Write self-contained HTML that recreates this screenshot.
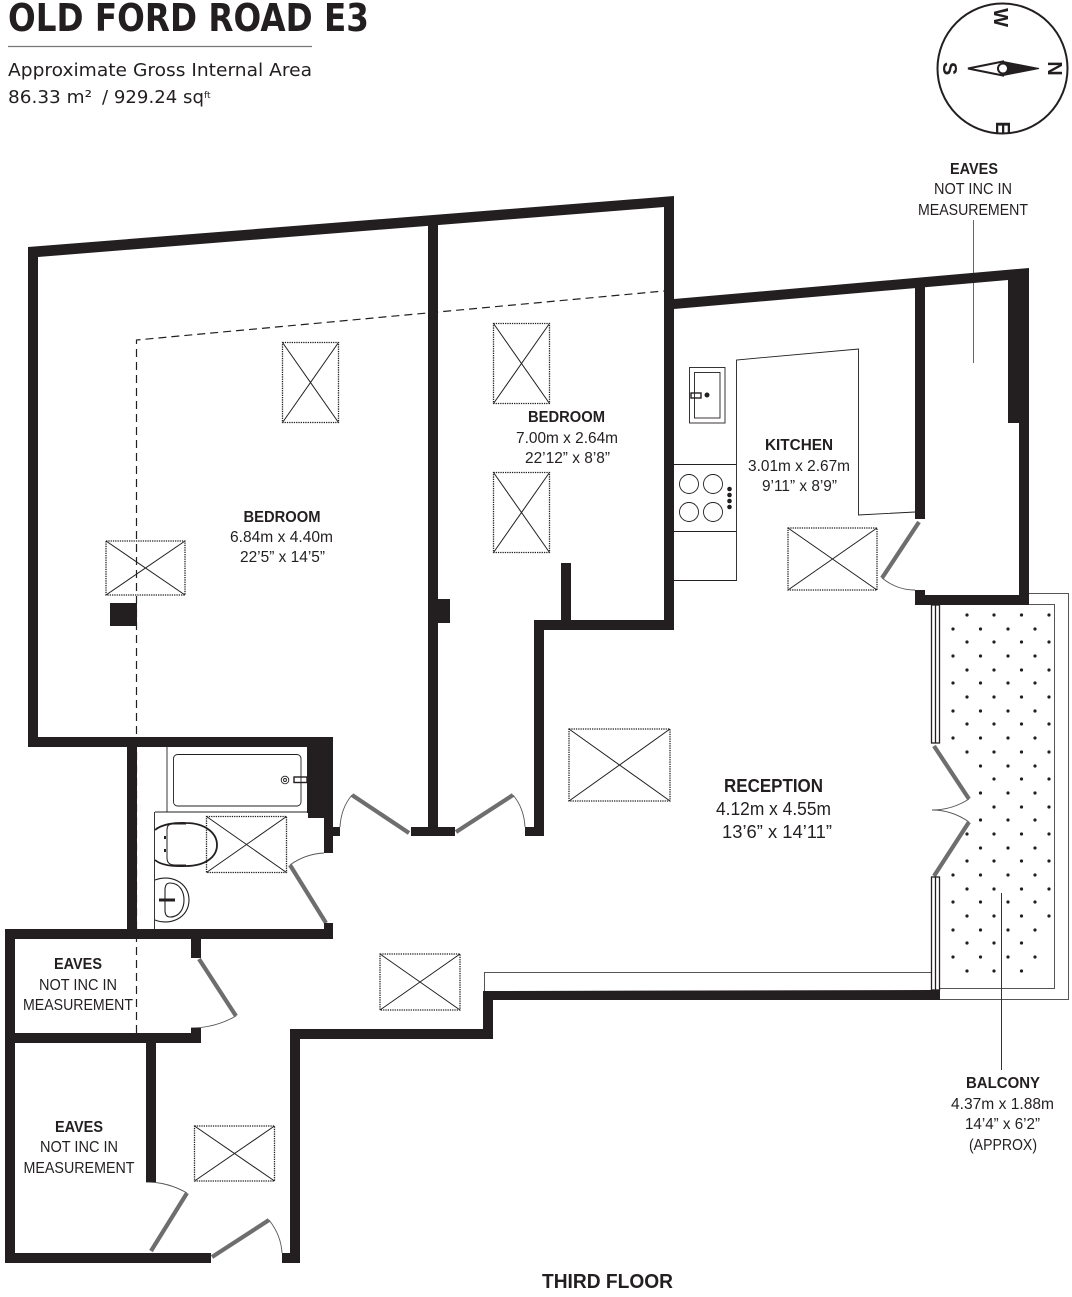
<!DOCTYPE html>
<html><head><meta charset="utf-8"><style>
html,body{margin:0;padding:0;background:#fff}
svg{display:block}
text{font-family:"Liberation Sans",sans-serif;fill:#231f20;font-size:16px}
.d{font-family:"DejaVu Sans",sans-serif}
.b{font-weight:bold}
.c{text-anchor:middle}
</style></head><body>
<svg xmlns="http://www.w3.org/2000/svg" width="1072" height="1297" viewBox="0 0 1072 1297">
<rect width="1072" height="1297" fill="#fff"/>
<!-- header -->
<text x="8" y="31" class="b d" style="font-size:38px" textLength="361" lengthAdjust="spacingAndGlyphs">OLD FORD ROAD E3</text>
<line x1="8" y1="46.5" x2="312" y2="46.5" stroke="#777" stroke-width="1.2"/>
<text x="8" y="76" class="d" style="font-size:18px" textLength="304" lengthAdjust="spacingAndGlyphs">Approximate Gross Internal Area</text>
<text x="8" y="103" class="d" style="font-size:18px" textLength="84" lengthAdjust="spacingAndGlyphs">86.33 m²</text>
<text x="102" y="103" class="d" style="font-size:18px" textLength="102" lengthAdjust="spacingAndGlyphs">/ 929.24 sq</text>
<text x="204" y="98" class="d" style="font-size:9px">ft</text>
<!-- compass -->
<circle cx="1002.5" cy="68.5" r="65" fill="none" stroke="#231f20" stroke-width="2"/>
<path d="M968 68.5L1003 61.5V75.5Z" fill="#fff" stroke="#231f20" stroke-width="2"/>
<path d="M1039 68.5L1003 61.5V75.5Z" fill="#231f20" stroke="#231f20"/>
<circle cx="1003" cy="68.5" r="5" fill="#fff" stroke="#231f20" stroke-width="2"/>
<text class="b c" style="font-size:20px" transform="translate(994,17.5) rotate(90)">W</text>
<text class="b c" style="font-size:20px" transform="translate(943,68.5) rotate(90)">S</text>
<text class="b c" style="font-size:20px" transform="translate(1048,68.5) rotate(90)">N</text>
<text class="b c" style="font-size:20px" transform="translate(996,128) rotate(90)">E</text>
<!-- balcony -->
<g fill="none" stroke="#555" stroke-width="1">
<path d="M1029 593.5H1068.5V999.5H940"/>
<path d="M1029 604.5H1054.5V988.5H940"/>
<path d="M931 972.5H484.5V991"/>
</g>
<path stroke="#231f20" stroke-width="3.2" stroke-linecap="round" fill="none" d="M967 615h0M994 615h0M1021.5 615h0M1049 615h0M967 642h0M994 642h0M1021.5 642h0M1049 642h0M967 670h0M994 670h0M1021.5 670h0M1049 670h0M967 697h0M994 697h0M1021.5 697h0M1049 697h0M967 724h0M994 724h0M1021.5 724h0M1049 724h0M967 752h0M994 752h0M1021.5 752h0M1049 752h0M994 779h0M1021.5 779h0M1049 779h0M994 807h0M1021.5 807h0M1049 807h0M967 834h0M994 834h0M1021.5 834h0M1049 834h0M967 861h0M994 861h0M1021.5 861h0M1049 861h0M967 889h0M994 889h0M1021.5 889h0M1049 889h0M967 916h0M994 916h0M1021.5 916h0M1049 916h0M967 943h0M994 943h0M1021.5 943h0M967 971h0M994 971h0M1021.5 971h0M953 629h0M980.5 629h0M1008 629h0M1035 629h0M953 656h0M980.5 656h0M1008 656h0M1035 656h0M953 683h0M980.5 683h0M1008 683h0M1035 683h0M953 711h0M980.5 711h0M1008 711h0M1035 711h0M953 738h0M980.5 738h0M1008 738h0M1035 738h0M980.5 766h0M1008 766h0M1035 766h0M980.5 793h0M1008 793h0M1035 793h0M980.5 820h0M1008 820h0M1035 820h0M980.5 848h0M1008 848h0M1035 848h0M953 875h0M980.5 875h0M1008 875h0M1035 875h0M953 902h0M980.5 902h0M1008 902h0M1035 902h0M953 930h0M980.5 930h0M1008 930h0M1035 930h0M953 957h0M980.5 957h0M1008 957h0M1035 957h0"/>
<!-- leaders -->
<line x1="973.5" y1="220" x2="973.5" y2="363" stroke="#666"/>
<line x1="1001.5" y1="893" x2="1001.5" y2="1070" stroke="#333"/>
<!-- dashed -->
<path d="M136.5 1033V340L664 291" fill="none" stroke="#231f20" stroke-width="1.2" stroke-dasharray="8 5"/>
<!-- skylights -->
<g fill="none" stroke="#231f20">
<g stroke-width="1.300" stroke-dasharray="1.300 1">
<rect x="282.500" y="342.500" width="56" height="80"/><rect x="106" y="541" width="79" height="54"/><rect x="493.500" y="323.500" width="56" height="80"/><rect x="493.500" y="472.500" width="56" height="80"/><rect x="788" y="528" width="89" height="62"/><rect x="569" y="729" width="101" height="72"/><rect x="206.500" y="816.500" width="80" height="56"/><rect x="380" y="954" width="80" height="56"/><rect x="194.500" y="1126" width="80" height="55"/>
</g>
<path stroke-width="1" d="M282.500 342.500L338.500 422.500M338.500 342.500L282.500 422.500M106 541L185 595M185 541L106 595M493.500 323.500L549.500 403.500M549.500 323.500L493.500 403.500M493.500 472.500L549.500 552.500M549.500 472.500L493.500 552.500M788 528L877 590M877 528L788 590M569 729L670 801M670 729L569 801M206.500 816.500L286.500 872.500M286.500 816.500L206.500 872.500M380 954L460 1010M460 954L380 1010M194.500 1126L274.500 1181M274.500 1126L194.500 1181"/>
</g>
<!-- kitchen fittings -->
<g fill="none" stroke="#231f20" stroke-width="0.9">
<path d="M674 580.500H736.500V360L858.500 349V515L915 512"/>
<path d="M674 464.500H736M674 531.500H736"/>
<rect x="689.500" y="367.500" width="35.500" height="55.500"/>
<rect x="694.500" y="372.500" width="25.500" height="45.500"/>
<rect x="691" y="393" width="10" height="5" stroke-width="1.400"/>
<circle cx="689" cy="484" r="9.500"/><circle cx="713" cy="484" r="9.500"/><circle cx="689" cy="512" r="9.500"/><circle cx="713" cy="512" r="9.500"/>
</g>
<circle cx="707" cy="395" r="2.500" fill="#231f20"/>
<g fill="#231f20"><circle cx="729.500" cy="489" r="2.300"/><circle cx="729.500" cy="495" r="2.300"/><circle cx="729.500" cy="501" r="2.300"/><circle cx="729.500" cy="507" r="2.300"/></g>
<!-- bathroom fittings -->
<g fill="none" stroke="#231f20" stroke-width="0.9">
<path d="M167 747V812M155 812H307M154.500 812V929"/>
<rect x="173.500" y="754.500" width="127.500" height="51.500" rx="4"/>
<circle cx="285" cy="780" r="3.800"/><circle cx="285" cy="780" r="1.500"/>
<rect x="294" y="777" width="13" height="5.500" stroke-width="1.400"/>
<path stroke-width="1.800" d="M155 830C162 824 175 822.500 186 823C205 823 217 833 217 845C217 857 205 866 186 866C175 866.500 162 866 155 860"/>
<path stroke-width="1" d="M186 824H172C168 824 167 827 167 830V858C167 863 170 865 175 865H186"/>
<path d="M165 836v3M165 849v3" stroke-width="2"/>
<path stroke-width="1.100" d="M155 880C170 874 189 882 189 900C189 918 170 926 155 920"/>
<path stroke-width="1.100" d="M170 883C180 883 184 892 184 900C184 908 180 917 170 917C166 917 165 914 165 910V890C165 885 167 883 170 883Z"/>
<path stroke-width="3" d="M159 900H175"/>
</g>
<!-- door arcs -->
<g fill="none" stroke="#555" stroke-width="0.9">
<path d="M882 578Q897 590 915 590"/>
<path d="M290 865Q305 854 324 853"/>
<path d="M352 795Q341 808 340 827"/>
<path d="M513 795Q524 808 525 827"/>
<path d="M236 1016Q215 1028 191 1028"/>
<path d="M187 1193Q168 1182 146 1182"/>
<path d="M269 1220Q281 1235 282 1253"/>
<path d="M969 799Q952 810 932 810Q952 810 969 822"/>
</g>
<!-- door leaves -->
<g stroke="#6e6e6e" stroke-width="4.200" fill="none">
<path d="M919 522L882 578M290 865L326 923M352 795L409 833M513 795L456 832M199 959L236 1016M187 1193L151 1251M269 1220L212 1257M934 746L969 799M969 822L934 876"/>
</g>
<!-- windows -->
<g fill="#fff" stroke="#231f20" stroke-width="1.300">
<rect x="931.500" y="605" width="8" height="138"/><rect x="931.500" y="877" width="8" height="113"/>
<path d="M935.500 605V743M935.500 877V990" fill="none"/>
</g>
<!-- walls -->
<g fill="#231f20">
<polygon points="28,247 674,196 674,630 544,630 544,836 525,836 525,827 534,827 534,620 664,620 664,207 38,257 38,737 333,737 333,853 324,853 324,818 308,818 308,813 307,813 307,747 137,747 137,929 333,929 333,939 15,939 15,1033 201,1033 201,1043 156,1043 156,1182 146,1182 146,1043 15,1043 15,1253 211,1253 211,1263 5,1263 5,929 127,929 127,747 28,747"/>
<rect x="324" y="827" width="16" height="9"/>
<rect x="324" y="923" width="9" height="8"/>
<rect x="428" y="222" width="10" height="610"/>
<rect x="411" y="827" width="44" height="9"/>
<rect x="438" y="599" width="12" height="24"/>
<rect x="561" y="563" width="10" height="60"/>
<rect x="110" y="603" width="27" height="23"/>
<rect x="191" y="939" width="10" height="19"/>
<rect x="191" y="1028" width="10" height="6"/>
<polygon points="674,299 1029,268 1029,605 915,605 915,590 925,590 925,595 1019,595 1019,423 1008,423 1008,280 674,309"/>
<rect x="915" y="283" width="10" height="236"/>
<polygon points="940,990 940,1000 493,1000 493,1039 300,1039 300,1263 282,1263 282,1253 290,1253 290,1029 483,1029 483,991 931,990"/>
</g>
<!-- labels -->
<g>
<text x="282" y="522" class="b c" textLength="77" lengthAdjust="spacingAndGlyphs">BEDROOM</text>
<text x="281.500" y="542" class="c" textLength="103" lengthAdjust="spacingAndGlyphs">6.84m x 4.40m</text>
<text x="282.500" y="562" class="c" textLength="85" lengthAdjust="spacingAndGlyphs">22’5” x 14’5”</text>
<text x="566.500" y="422" class="b c" textLength="77" lengthAdjust="spacingAndGlyphs">BEDROOM</text>
<text x="567" y="443" class="c" textLength="102" lengthAdjust="spacingAndGlyphs">7.00m x 2.64m</text>
<text x="567.500" y="463" class="c" textLength="85" lengthAdjust="spacingAndGlyphs">22’12” x 8’8”</text>
<text x="799" y="450" class="b c" textLength="68" lengthAdjust="spacingAndGlyphs">KITCHEN</text>
<text x="799" y="471" class="c" textLength="102" lengthAdjust="spacingAndGlyphs">3.01m x 2.67m</text>
<text x="799.500" y="491" class="c" textLength="75" lengthAdjust="spacingAndGlyphs">9’11” x 8’9”</text>
<text x="773.500" y="792" class="b c" style="font-size:18px" textLength="99" lengthAdjust="spacingAndGlyphs">RECEPTION</text>
<text x="773.500" y="815" class="c" style="font-size:18px" textLength="115" lengthAdjust="spacingAndGlyphs">4.12m x 4.55m</text>
<text x="777" y="838" class="c" style="font-size:18px" textLength="110" lengthAdjust="spacingAndGlyphs">13’6” x 14’11”</text>
<text x="974" y="174" class="b c" textLength="48" lengthAdjust="spacingAndGlyphs">EAVES</text>
<text x="973" y="194" class="c" textLength="78" lengthAdjust="spacingAndGlyphs">NOT INC IN</text>
<text x="973" y="215" class="c" textLength="110" lengthAdjust="spacingAndGlyphs">MEASUREMENT</text>
<text x="78" y="969" class="b c" textLength="48" lengthAdjust="spacingAndGlyphs">EAVES</text>
<text x="78" y="990" class="c" textLength="78" lengthAdjust="spacingAndGlyphs">NOT INC IN</text>
<text x="78" y="1010" class="c" textLength="110" lengthAdjust="spacingAndGlyphs">MEASUREMENT</text>
<text x="79" y="1132" class="b c" textLength="48" lengthAdjust="spacingAndGlyphs">EAVES</text>
<text x="79" y="1152" class="c" textLength="78" lengthAdjust="spacingAndGlyphs">NOT INC IN</text>
<text x="79" y="1173" class="c" textLength="111" lengthAdjust="spacingAndGlyphs">MEASUREMENT</text>
<text x="1003" y="1088" class="b c" textLength="74" lengthAdjust="spacingAndGlyphs">BALCONY</text>
<text x="1002.500" y="1109" class="c" textLength="103" lengthAdjust="spacingAndGlyphs">4.37m x 1.88m</text>
<text x="1002.500" y="1129" class="c" textLength="75" lengthAdjust="spacingAndGlyphs">14’4” x 6’2”</text>
<text x="1003" y="1150" class="c" textLength="68" lengthAdjust="spacingAndGlyphs">(APPROX)</text>
<text x="607.500" y="1288" class="b c" style="font-size:20px" textLength="131" lengthAdjust="spacingAndGlyphs">THIRD FLOOR</text>
</g>
</svg>
</body></html>
